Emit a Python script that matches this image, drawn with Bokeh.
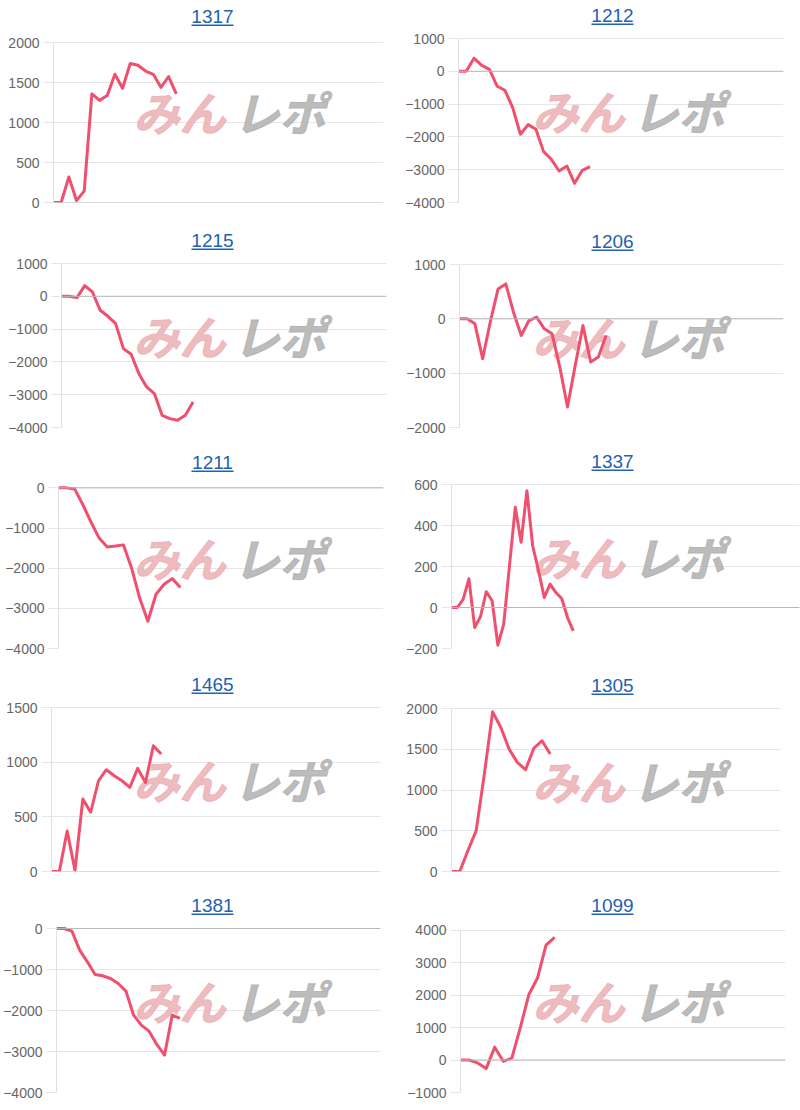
import numpy as np
from bokeh.plotting import figure
from bokeh.models import Range1d, FixedTicker, Span, Label, BoxAnnotation
from bokeh.layouts import column, row
from bokeh.embed import file_html
from bokeh.resources import INLINE

# ---------------- data ----------------
titles = ["1317", "1212", "1215", "1206", "1211", "1337", "1465", "1305", "1381", "1099"]

s1317 = [0, 0, 320, 25, 143, 1359, 1278, 1339, 1604, 1429, 1739, 1718, 1645, 1604, 1441, 1576, 1359]
s1212 = [0, 0, 400, 183, 60, -457, -579, -1108, -1920, -1626, -1768, -2449, -2683, -3039, -2886, -3415, -3018, -2907]
s1215 = [0, 0, -40, 325, 132, -427, -610, -833, -1595, -1768, -2358, -2764, -2967, -3628, -3730, -3780, -3628, -3221]
s1206 = [0, 0, -92, -735, -50, 551, 643, 122, -306, -31, 31, -184, -276, -888, -1623, -857, -122, -796, -704, -306]
s1211 = [0, 0, -30, -420, -850, -1250, -1470, -1450, -1420, -2000, -2750, -3320, -2650, -2400, -2260, -2480]
s1337 = [0, 0, 40, 140, -98, -44, 77, 33, -184, -81, 204, 489, 318, 570, 300, 180, 49, 114, 73, 44, -49, -114]
s1465 = [0, 0, 370, 10, 663, 542, 830, 931, 876, 830, 770, 943, 815, 1150, 1074]
s1305 = [0, 0, 257, 502, 1200, 1959, 1767, 1502, 1339, 1249, 1510, 1604, 1441]
s1381 = [0, 0, -65, -528, -813, -1122, -1154, -1220, -1341, -1528, -2114, -2358, -2504, -2829, -3089, -2114, -2195]
s1099 = [0, 0, -90, -264, 396, -40, 60, 1004, 2018, 2525, 3540, 3773]

series = [s1317, s1212, s1215, s1206, s1211, s1337, s1465, s1305, s1381, s1099]

# number of x slots (category count - 1) on each chart
x_slots = [43, 42, 42, 42, 40, 60, 42, 40, 42, 38]

y_lo = [0, -4000, -4000, -2000, -4000, -200, 0, 0, -4000, -1000]
y_hi = [2000, 1000, 1000, 1000, 0, 600, 1500, 2000, 0, 4000]
y_step = [500, 1000, 1000, 1000, 1000, 200, 500, 500, 1000, 1000]

# ---------------- layout (page pixels) ----------------
ROW_Y = [0, 222, 444, 666, 888]
ROW_H = [222, 222, 222, 222, 220]
COL_X = [0, 400]
COL_W = [400, 400]
# plot area: left, right, top, bottom
FRAMES = [
    (53, 383, 43, 206), (458, 783, 38, 202),
    (61, 386, 263, 427), (459, 783, 264, 427),
    (58, 383, 488, 651), (451, 799, 484, 648),
    (51, 380, 707, 871), (451, 780, 708, 871),
    (56, 380, 928, 1092), (460, 785, 930, 1094),
]
TITLE_CX = [212, 612]
WM_X = [133, 532]

LINE_COLOR = "#f0506e"
TITLE_COLOR = "#1f62b0"
FONT = "Liberation Sans"


def make(i):
    r, c = divmod(i, 2)
    L, R, T, B = FRAMES[i]
    fx0, fy0 = COL_X[c], ROW_Y[r]
    W, H = COL_W[c], ROW_H[r]
    lo, hi = y_lo[i], y_hi[i]
    per_px = (hi - lo) / (B - T)
    top = hi + (T - fy0) * per_px          # frame reaches up to the figure top (title area)
    p = figure(width=W, height=H, output_backend="svg", toolbar_location=None,
               x_range=Range1d(0, x_slots[i]), y_range=Range1d(lo, top),
               min_border_left=L - fx0, min_border_right=fx0 + W - R,
               min_border_top=0, min_border_bottom=fy0 + H - B)
    p.outline_line_color = None
    p.background_fill_color = "white"
    p.border_fill_color = "white"
    p.xaxis.visible = False
    p.xgrid.visible = False
    p.ygrid.grid_line_color = "#e6e6e6"
    p.ygrid.grid_line_width = 1
    ax = p.yaxis[0]
    ax.ticker = FixedTicker(ticks=list(range(lo, hi + 1, y_step[i])))
    ax.bounds = (lo, hi)
    ax.major_label_text_font = FONT
    ax.major_label_text_font_size = "14px"
    ax.major_label_text_color = "#666666"
    ax.major_tick_out = 10
    ax.major_tick_in = 0
    ax.major_tick_line_color = "#e6e6e6"
    ax.minor_tick_line_color = None
    ax.axis_line_color = "#e0e0e0"
    ax.major_label_standoff = 4

    p.add_layout(Span(location=0, dimension="width", line_color="#b8b8b8", line_width=1))

    # watermark (centre of the glyphs ~71px below the plot top)
    wy = B - (T + 71)
    p.add_layout(Label(x=WM_X[c] - L, y=wy, x_units="screen", y_units="screen",
                       text="みん", text_font="Noto Sans CJK JP", text_font_size="46px",
                       text_font_style="bold italic", text_color="#ebb0b4", text_alpha=0.85,
                       text_outline_color="#ebb0b4", text_baseline="middle",
                       level="underlay"))
    p.add_layout(Label(x=WM_X[c] - L + 100, y=wy, x_units="screen", y_units="screen",
                       text="レポ", text_font="Noto Sans CJK JP", text_font_size="46px",
                       text_font_style="bold italic", text_color="#b0b0b0", text_alpha=0.85,
                       text_outline_color="#b0b0b0", text_baseline="middle",
                       level="underlay"))

    ys = series[i]
    p.line(np.arange(len(ys)), ys, line_color=LINE_COLOR, line_width=3, line_join="round")

    # title (link-style, underlined)
    cx = TITLE_CX[c] - L
    p.add_layout(Label(x=cx, y=B - (T - 23.5), x_units="screen", y_units="screen",
                       text=titles[i], text_align="center", text_baseline="middle",
                       text_font=FONT, text_font_size="19px", text_color=TITLE_COLOR))
    ub = B - (T - 15)
    p.add_layout(BoxAnnotation(left=cx - 21, right=cx + 21, bottom=ub - 1.5, top=ub,
                               left_units="screen", right_units="screen",
                               bottom_units="screen", top_units="screen",
                               fill_color=TITLE_COLOR, fill_alpha=1.0, line_color=None))
    return p


figs = [make(i) for i in range(10)]
layout = column(*[row(figs[2 * k], figs[2 * k + 1]) for k in range(5)])

open("out.html", "w").write(file_html(layout, INLINE))
